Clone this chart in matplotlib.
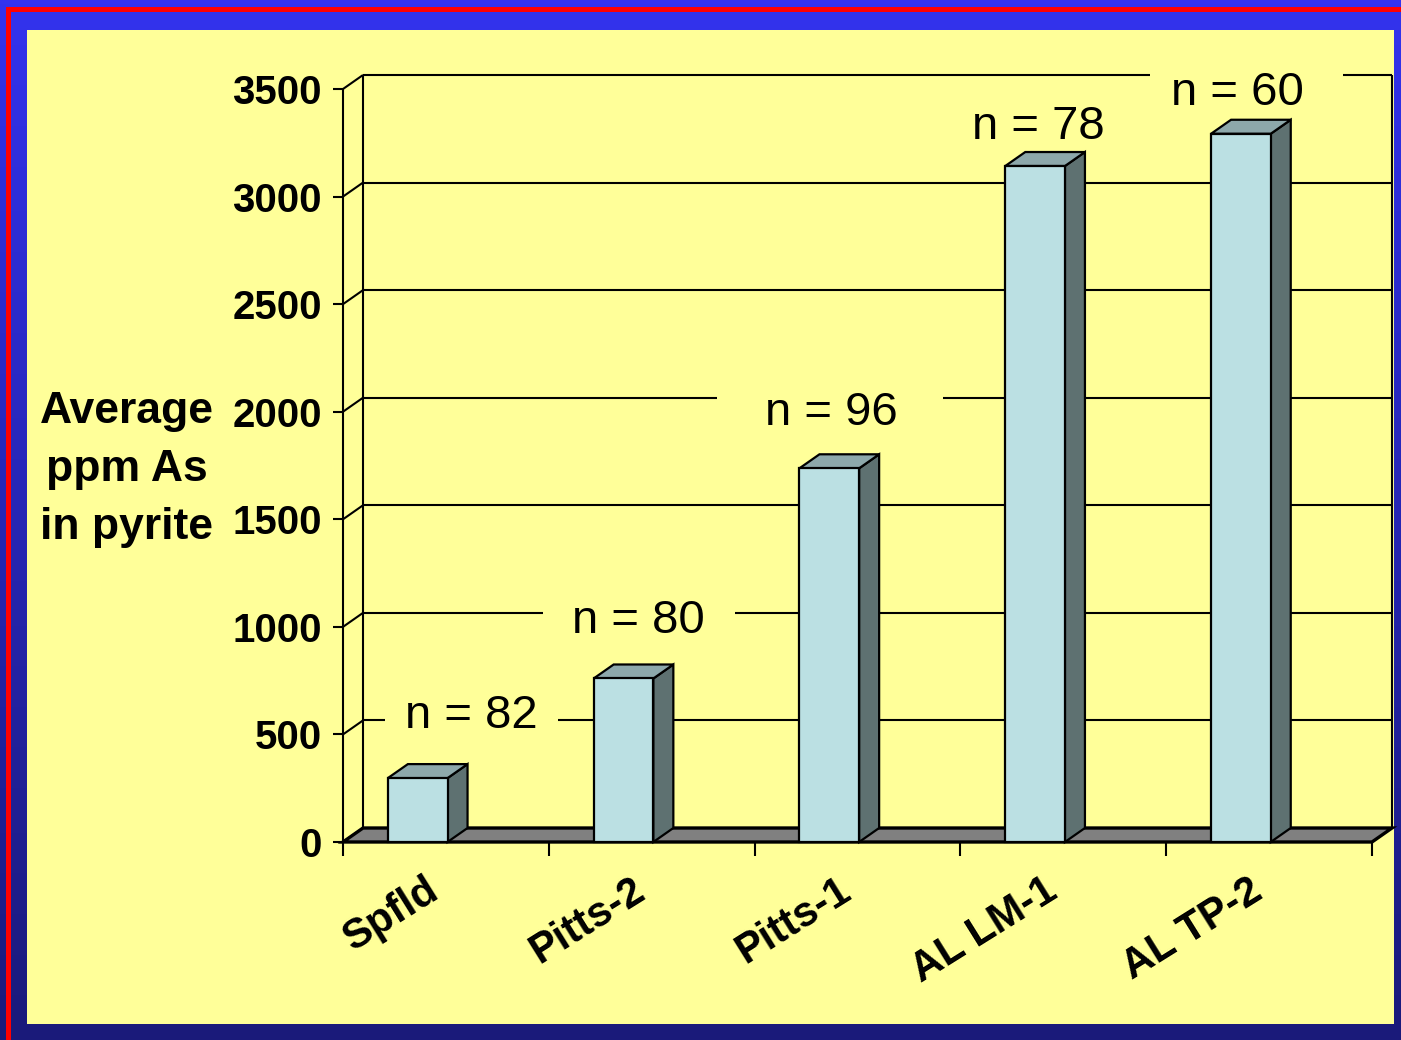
import numpy as np
import matplotlib
matplotlib.use("Agg")
import matplotlib.pyplot as plt
from matplotlib.patches import Polygon, Rectangle

# ---- data -------------------------------------------------------------
categories = ["Spfld", "Pitts-2", "Pitts-1", "AL LM-1", "AL TP-2"]
avg_ppm_as = [297, 760, 1737, 3142, 3292]
sample_counts = [82, 80, 96, 78, 60]
y_ticks = [0, 500, 1000, 1500, 2000, 2500, 3000, 3500]

# ---- layout (pixels) --------------------------------------------------
W, H = 1401, 1040
X0, X1 = 343, 1372          # front plane, category axis
Y0, Y1 = 842, 89            # front plane, value axis (0 and 3500)
YMAX = 3500
NCAT = len(categories)

PX_X = NCAT / (X1 - X0)     # category units per pixel
PX_Y = YMAX / (Y0 - Y1)     # value units per pixel
DX = 20 * PX_X              # depth offset of the 3-D box
DY = 14 * PX_Y

FONT = "Liberation Sans"
YELLOW = "#FFFF99"

fig = plt.figure(figsize=(W / 100, H / 100), dpi=100)

# ---- slide background -------------------------------------------------
bg = fig.add_axes([0, 0, 1, 1])
bg.set_axis_off()
top_c = np.array([0x33, 0x33, 0xEE]) / 255
bot_c = np.array([0x1A, 0x1A, 0x7A]) / 255
t = np.linspace(0, 1, 256)[:, None, None]
grad = top_c + (bot_c - top_c) * t
bg.imshow(grad, extent=[0, W, H, 0], aspect="auto", origin="upper")
bg.set_xlim(0, W)
bg.set_ylim(H, 0)
bg.add_patch(Rectangle((6, 7), W - 6, 5, color="#FF0000", lw=0))
bg.add_patch(Rectangle((6, 7), 5, H - 7, color="#FF0000", lw=0))
bg.add_patch(Rectangle((27, 30), 1394 - 27, 1024 - 30, color=YELLOW, lw=0))

# ---- chart axes -------------------------------------------------------
ax = fig.add_axes([X0 / W, (H - Y0) / H, (X1 - X0) / W, (Y0 - Y1) / H])
ax.set_xlim(0, NCAT)
ax.set_ylim(0, YMAX)
ax.set_axis_off()
ax.patch.set_alpha(0)

LW_GRID = 1.5
kw = dict(color="black", lw=LW_GRID, clip_on=False, solid_capstyle="butt")

# back wall: gridlines, top edge, side edges
for v in y_ticks:
    if v > 0:
        ax.plot([DX, NCAT + DX], [v + DY, v + DY], zorder=1, **kw)
    ax.plot([0, DX], [v, v + DY], zorder=1, **kw)                  # side wall
    ax.plot([-10 * PX_X, 0], [v, v], zorder=1, **kw)               # tick mark
    ax.text(-21 * PX_X, v - 15 * PX_Y, f"{v}", ha="right", va="baseline",
            fontsize=29, fontweight="bold", family=FONT, clip_on=False)
ax.plot([DX, DX], [DY, YMAX + DY], zorder=1, **kw)
ax.plot([NCAT + DX, NCAT + DX], [DY, YMAX + DY], zorder=1, **kw)
ax.plot([0, 0], [0, YMAX], zorder=1, **kw)

# floor
floor = Polygon([(0, 0), (NCAT, 0), (NCAT + DX, DY), (DX, DY)], closed=True,
                fc="#808080", ec="black", lw=2.4, zorder=2, clip_on=False,
                joinstyle="miter")
ax.add_patch(floor)

# category ticks below the floor
for i in range(NCAT + 1):
    ax.plot([i, i], [0, -14 * PX_Y], zorder=2, **kw)

# sample-count labels sitting on the back wall
label_x = [0.622, 1.433, 2.371, 3.377, 4.344]
label_base = [530, 971, 1938, 3268, 3426]
label_gap = [(0.204, 1.045, 500), (0.972, 1.905, 1000), (1.817, 2.915, 2000),
             None, (3.921, 4.859, 3500)]
for n, x, yb, gap in zip(sample_counts, label_x, label_base, label_gap):
    if gap is not None:
        g0, g1, gv = gap
        ax.add_patch(Rectangle((g0, gv + DY - 40), g1 - g0, 80, fc=YELLOW,
                               lw=0, zorder=3, clip_on=False))
    ax.text(x, yb, f"n = {n}", ha="center", va="baseline", fontsize=34,
            family=FONT, zorder=4, clip_on=False)

# 3-D bars
BAR_OFF, BAR_W = 0.218, 0.29
for i, v in enumerate(avg_ppm_as):
    x0 = i + BAR_OFF
    x1 = x0 + BAR_W
    ekw = dict(ec="black", lw=1.6, zorder=5, clip_on=False, joinstyle="miter")
    ax.add_patch(Polygon([(x1, 0), (x1 + DX, DY), (x1 + DX, v + DY), (x1, v)],
                         closed=True, fc="#5E7171", **ekw))
    ax.add_patch(Polygon([(x0, v), (x1, v), (x1 + DX, v + DY), (x0 + DX, v + DY)],
                         closed=True, fc="#8DA8AB", **ekw))
    ax.add_patch(Rectangle((x0, 0), BAR_W, v, fc="#BBE0E3", **ekw))

# category labels
for i, name in enumerate(categories):
    ax.text(i + 0.40, -132, name, rotation=32, rotation_mode="anchor",
            ha="right", va="top", fontsize=30, fontweight="bold",
            family=FONT, clip_on=False)

# value-axis title
title_x = (127 - X0) * PX_X
for line, base_px in zip(["Average", "ppm As", "in pyrite"], [423, 481, 539]):
    ax.text(title_x, (Y0 - base_px) * PX_Y, line, ha="center", va="baseline",
            fontsize=32, fontweight="bold", family=FONT, clip_on=False)

fig.savefig("out.png", dpi=100)
